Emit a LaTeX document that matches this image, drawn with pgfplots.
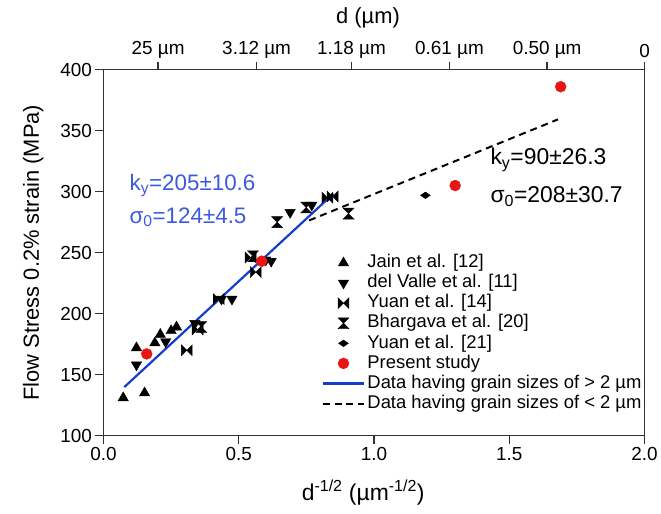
\documentclass[border=0pt]{standalone}
\usepackage{pgfplots}
\pgfplotsset{compat=1.18}
\usepackage{fontspec}
\setmainfont{Liberation Sans}
\setsansfont{Liberation Sans}

\definecolor{fitblue}{RGB}{20,60,205}
\definecolor{txtblue}{RGB}{60,90,225}
\definecolor{ptred}{RGB}{235,20,20}
\definecolor{axgray}{RGB}{50,50,50}

% horizontal bow-tie mark
\pgfdeclareplotmark{bowtie}{%
  \pgfpathmoveto{\pgfqpoint{-\pgfplotmarksize}{\pgfplotmarksize}}%
  \pgfpathlineto{\pgfqpoint{\pgfplotmarksize}{-\pgfplotmarksize}}%
  \pgfpathlineto{\pgfqpoint{\pgfplotmarksize}{\pgfplotmarksize}}%
  \pgfpathlineto{\pgfqpoint{-\pgfplotmarksize}{-\pgfplotmarksize}}%
  \pgfpathclose\pgfusepathqfillstroke}

\pgfplotsset{
  common/.style={
    scale only axis,
    width=544pt, height=368pt,
    xmin=0, xmax=2, ymin=100, ymax=400,
    tick align=outside,
    major tick length=8pt,
    axis line style={line width=1.4pt, axgray},
    tick style={line width=1.4pt, axgray},
    tick label style={font=\fontsize{19}{21}\selectfont},
    label style={font=\fontsize{22}{24}\selectfont},
  },
}

\begin{document}
\begin{tikzpicture}
\begin{axis}[
  common,
  xtick={0,0.5,1,1.5,2},
  ytick={100,150,...,400},
  xtick pos=bottom, ytick pos=left,
  x tick label style={/pgf/number format/.cd, fixed, fixed zerofill, precision=1},
  /pgf/number format/assume math mode=true,
  xlabel={d\textsuperscript{-1/2} (µm\textsuperscript{-1/2})},
  ylabel={Flow Stress 0.2\% strain (MPa)},
  xlabel style={at={(axis description cs:0.48,-0.155)}, anchor=center, font=\fontsize{23}{25}\selectfont},
  ylabel style={at={(axis description cs:-0.13,0.5)}, anchor=center},
  legend style={draw=none, fill=none, at={(0.403,0.497)}, anchor=north west,
    inner sep=0pt, outer sep=0pt,
    font=\fontsize{18.5}{20}\selectfont, row sep=1.7pt,
    nodes={text height=13.5pt, text depth=4pt, inner ysep=0.5pt},
    /tikz/every even column/.append style={column sep=0pt}},
  legend cell align=left,
  legend image code/.code={%
    \draw[mark repeat=2,mark phase=2,#1] plot coordinates {(0pt,0pt) (21pt,0pt) (42pt,0pt)};},
]
% Jain et al. [12]
\addplot[only marks, mark=triangle*, mark size=6pt, black] coordinates {
  (0.073,131) (0.152,135) (0.122,172) (0.19,176) (0.21,183) (0.25,186) (0.27,189)
};
% del Valle et al. [11]
\addplot[only marks, mark=triangle*, mark size=6pt, black, mark options={rotate=180}] coordinates {
  (0.122,158) (0.23,177) (0.338,192) (0.436,212) (0.475,212) (0.60,244) (0.62,243) (0.69,283) (0.77,289)
};
% Yuan et al. [14]
\addplot[only marks, mark=bowtie, mark size=5.5pt, black] coordinates {
  (0.308,170) (0.348,187) (0.426,212) (0.544,246) (0.563,234) (0.828,295) (0.847,296)
};
% Bhargava et al. [20]
\addplot[only marks, mark=bowtie, mark size=5.5pt, black, mark options={rotate=90}] coordinates {
  (0.362,189) (0.553,247) (0.642,275) (0.749,287) (0.906,282)
};
% Yuan et al. [21]
\addplot[only marks, mark=diamond*, mark size=6pt, black, mark options={yscale=0.55,xscale=1.1}] coordinates {
  (1.19,297)
};
% Present study
\addplot[only marks, mark=*, mark size=5.5pt, ptred] coordinates {
  (0.16,167) (0.585,243) (1.30,305) (1.69,386)
};
% Hall-Petch fits
\addplot[fitblue, line width=2.2pt] coordinates {(0.077,139.8) (0.85,298.3)};
\addplot[black, line width=2pt, dash pattern=on 7pt off 5pt] coordinates {(0.76,276.4) (1.68,359.2)};
\legend{Jain et al. [12], del Valle et al. [11], Yuan et al. [14], Bhargava et al. [20], Yuan et al. [21], Present study, Data having grain sizes of > 2 µm, Data having grain sizes of < 2 µm}

\node[anchor=west, text=txtblue, font=\fontsize{22.5}{24}\selectfont, inner sep=0pt] at (axis cs:0.096,305) {k\textsubscript{y}=205±10.6};
\node[anchor=west, text=txtblue, font=\fontsize{22.5}{24}\selectfont, inner sep=0pt] at (axis cs:0.096,279) {σ\textsubscript{0}=124±4.5};
\node[anchor=west, text=black, font=\fontsize{23}{25}\selectfont, inner sep=0pt] at (axis cs:1.43,326) {k\textsubscript{y}=90±26.3};
\node[anchor=west, text=black, font=\fontsize{23}{25}\selectfont, inner sep=0pt] at (axis cs:1.43,296) {σ\textsubscript{0}=208±30.7};
\end{axis}
% top axis with grain-size labels
\begin{axis}[
  common,
  axis x line*=top, hide y axis,
  xtick={0.202,0.566,0.917,1.279,1.64,2.0},
  xticklabels={25 µm, 3.12 µm, 1.18 µm, 0.61 µm, 0.50 µm, 0},
  xlabel={d (µm)},
  xlabel style={at={(axis description cs:0.489,1.141)}, anchor=center},
]
\addplot[draw=none] coordinates {(0,100) (2,400)};
\end{axis}
\path (-104pt,-78pt) rectangle (557pt,438pt);
\end{tikzpicture}
\end{document}
